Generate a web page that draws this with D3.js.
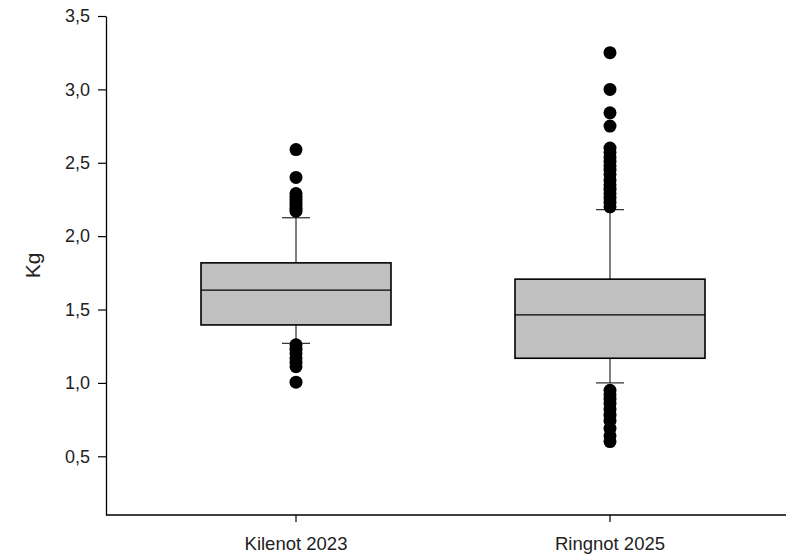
<!DOCTYPE html>
<html>
<head>
<meta charset="utf-8">
<script src="https://cdn.jsdelivr.net/npm/d3@7"></script>
<style>
  body { margin: 0; background: #fff; }
  svg { font-family: "Liberation Sans", Arial, sans-serif; }
</style>
</head>
<body>
<div id="chart"></div>
<script>
const groups = ["Kilenot 2023", "Ringnot 2025"];
// q1, median, q3, lower whisker, upper whisker
const boxStats = [
  { q1: 1.395, median: 1.632, q3: 1.818, lo: 1.27, hi: 2.125 },
  { q1: 1.168, median: 1.463, q3: 1.707, lo: 1.0, hi: 2.18 }
];
const outliersKilenot = [2.59, 2.40, 2.29, 2.27, 2.25, 2.23, 2.21, 2.19, 2.17,
  1.26, 1.23, 1.20, 1.17, 1.14, 1.11, 1.005];
const outliersRingnot = [3.25, 3.0, 2.84, 2.75, 2.60, 2.57, 2.54, 2.51, 2.48, 2.45, 2.42,
  2.38, 2.35, 2.32, 2.29, 2.26, 2.23, 2.20,
  0.95, 0.92, 0.89, 0.86, 0.82, 0.78, 0.74, 0.69, 0.64, 0.60];
const yTicks = [0.5, 1.0, 1.5, 2.0, 2.5, 3.0, 3.5];

const width = 792, height = 558;
const svg = d3.select("#chart").append("svg").attr("width", width).attr("height", height);

const x = d3.scaleLinear().domain([0, 1]).range([296, 610]);
const y = d3.scaleLinear().domain([0.1, 3.5]).range([515, 16]);
const xLeft = 106, xRight = 786;
const boxW = 190, capW = 28;

const fmt = d3.formatLocale({ decimal: ",", thousands: ".", grouping: [3], currency: ["", "€"] }).format(".1f");

// y axis
const yAxis = svg.append("g").attr("transform", `translate(${xLeft},0)`)
  .call(d3.axisLeft(y).tickValues(yTicks).tickFormat(fmt).tickSize(8).tickPadding(8).tickSizeOuter(0));
yAxis.select(".domain").attr("stroke-width", 1.3);
yAxis.selectAll(".tick line").attr("stroke-width", 1.2);
yAxis.selectAll("text").style("font-size", "18px").attr("fill", "#222");

// x axis
const xAxis = svg.append("g").attr("transform", `translate(0,${y(0.1)})`);
xAxis.append("line").attr("x1", xLeft).attr("x2", xRight).attr("stroke", "#000").attr("stroke-width", 1.3);
groups.forEach((g, i) => {
  xAxis.append("line").attr("x1", x(i)).attr("x2", x(i)).attr("y1", 0).attr("y2", 7)
    .attr("stroke", "#000").attr("stroke-width", 1.2);
  xAxis.append("text").attr("x", x(i)).attr("y", 35).attr("text-anchor", "middle")
    .style("font-size", "18.5px").attr("fill", "#222").text(g);
});

svg.append("text")
  .attr("transform", `translate(40,${y(1.8)}) rotate(-90)`)
  .attr("text-anchor", "middle")
  .style("font-size", "21px")
  .attr("fill", "#222")
  .text("Kg");

// boxes
const boxes = svg.append("g").selectAll("g").data(boxStats).join("g");
boxes.append("line")
  .attr("x1", (d, i) => x(i)).attr("x2", (d, i) => x(i))
  .attr("y1", d => y(d.hi)).attr("y2", d => y(d.lo))
  .attr("stroke", "#000").attr("stroke-width", 1);
boxes.append("line")
  .attr("x1", (d, i) => x(i) - capW / 2).attr("x2", (d, i) => x(i) + capW / 2)
  .attr("y1", d => y(d.hi)).attr("y2", d => y(d.hi))
  .attr("stroke", "#000").attr("stroke-width", 1);
boxes.append("line")
  .attr("x1", (d, i) => x(i) - capW / 2).attr("x2", (d, i) => x(i) + capW / 2)
  .attr("y1", d => y(d.lo)).attr("y2", d => y(d.lo))
  .attr("stroke", "#000").attr("stroke-width", 1);
boxes.append("rect")
  .attr("x", (d, i) => x(i) - boxW / 2).attr("width", boxW)
  .attr("y", d => y(d.q3)).attr("height", d => y(d.q1) - y(d.q3))
  .attr("fill", "#c0c0c0").attr("stroke", "#000").attr("stroke-width", 1.6);
boxes.append("line")
  .attr("x1", (d, i) => x(i) - boxW / 2).attr("x2", (d, i) => x(i) + boxW / 2)
  .attr("y1", d => y(d.median)).attr("y2", d => y(d.median))
  .attr("stroke", "#000").attr("stroke-width", 1.2);

// outliers
[outliersKilenot, outliersRingnot].forEach((arr, i) => {
  svg.append("g").selectAll("circle").data(arr).join("circle")
    .attr("cx", x(i)).attr("cy", d => y(d)).attr("r", 6.5).attr("fill", "#000");
});
</script>
</body>
</html>
